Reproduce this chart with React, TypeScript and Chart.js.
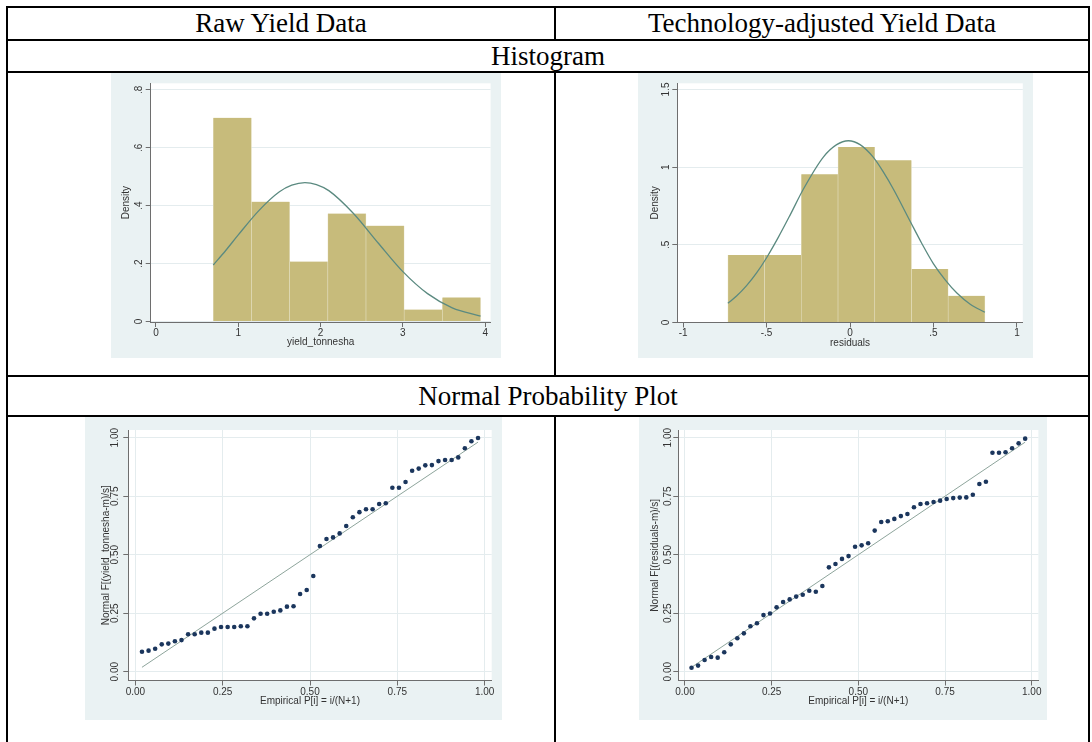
import React, { useEffect, useRef } from "react";
import { Chart, registerables } from "chart.js";

Chart.register(...registerables);

// ---------- Histogram: raw yield (yield_tonnesha) ----------
const rawBinStart = 0.696;
const rawBinWidth = 0.464;
const rawDensity = [0.704, 0.414, 0.207, 0.373, 0.331, 0.041, 0.083];
// overlaid normal density, sampled along the data range
const rawNormalX = [0.696, 0.85, 1.0, 1.25, 1.5, 1.65, 1.81, 1.95, 2.1, 2.4, 2.7, 3.0, 3.3, 3.6, 3.944];
const rawNormalY = [0.195, 0.246, 0.299, 0.383, 0.448, 0.471, 0.48, 0.473, 0.452, 0.373, 0.271, 0.172, 0.096, 0.047, 0.018];
const rawXTicks = [0, 1, 2, 3, 4];
const rawXTickLabels = ["0", "1", "2", "3", "4"];
const rawYTicks = [0, 0.2, 0.4, 0.6, 0.8];
const rawYTickLabels = ["0", ".2", ".4", ".6", ".8"];

// ---------- Histogram: technology-adjusted yield (residuals) ----------
const resBinStart = -0.732;
const resBinWidth = 0.22;
const resDensity = [0.435, 0.435, 0.955, 1.13, 1.045, 0.345, 0.172];
const resNormalX = [-0.732, -0.68, -0.62, -0.56, -0.5, -0.43, -0.36, -0.28, -0.16, -0.08, -0.01, 0.06, 0.14, 0.2, 0.26, 0.36, 0.43, 0.5, 0.57, 0.64, 0.72, 0.808];
const resNormalY = [0.124, 0.17, 0.237, 0.319, 0.417, 0.548, 0.69, 0.858, 1.065, 1.145, 1.17, 1.145, 1.063, 0.968, 0.858, 0.652, 0.509, 0.378, 0.275, 0.19, 0.118, 0.066];
const resXTicks = [-1, -0.5, 0, 0.5, 1];
const resXTickLabels = ["-1", "-.5", "0", ".5", "1"];
const resYTicks = [0, 0.5, 1, 1.5];
const resYTickLabels = ["0", ".5", "1", "1.5"];

// ---------- Normal probability plots ----------
const pnormTicks = [0, 0.25, 0.5, 0.75, 1];
const pnormTickLabels = ["0.00", "0.25", "0.50", "0.75", "1.00"];
// Normal F[(x-m)/s] of the sorted observations
const rawNormalF = [
  0.085, 0.09, 0.098, 0.117, 0.12, 0.13, 0.135, 0.16, 0.16, 0.167,
  0.167, 0.184, 0.191, 0.191, 0.191, 0.194, 0.194, 0.228, 0.248, 0.248,
  0.256, 0.262, 0.278, 0.28, 0.332, 0.349, 0.409, 0.537, 0.567, 0.574,
  0.591, 0.623, 0.66, 0.682, 0.694, 0.694, 0.717, 0.72, 0.786, 0.786,
  0.811, 0.859, 0.868, 0.882, 0.883, 0.9, 0.905, 0.905, 0.916, 0.955,
  0.985, 0.999,
];
const resNormalF = [
  0.017, 0.026, 0.05, 0.063, 0.06, 0.083, 0.117, 0.143, 0.164, 0.194,
  0.207, 0.242, 0.249, 0.275, 0.298, 0.309, 0.321, 0.329, 0.346, 0.342,
  0.366, 0.446, 0.46, 0.482, 0.494, 0.534, 0.54, 0.549, 0.603, 0.64,
  0.643, 0.653, 0.665, 0.674, 0.703, 0.717, 0.72, 0.725, 0.731, 0.738,
  0.742, 0.744, 0.745, 0.756, 0.802, 0.812, 0.936, 0.936, 0.938, 0.955,
  0.976, 0.996,
];

// ---------- styling ----------
const FONT = "'Liberation Sans', Arial, Helvetica, sans-serif";
const SERIF = "'Liberation Serif', 'Times New Roman', Times, serif";
const TICK_SIZE = 10;
const TEXT = "#333333";
const AXIS = "#6e6e6e";
const GRID = "#e4ecee";
const REGION_BG = "#eaf2f3";
const PLOT_BG = "#ffffff";
const BAR = "#c7bb7b";
const BAR_EDGE = "#e4dfc0";
const CURVE = "#5b8a80";
const MARKER = "#1b365d";
const DIAGONAL = "#8ea59c";

type Frame = {
  box: { left: number; top: number; width: number; height: number };
  area: { left: number; top: number; right: number; bottom: number };
  yLabelGap: number;
  yTitlePad: number;
  xTitlePad: number;
  xLabelPad: number;
};

// white plot region + rotated y tick labels
const framePlugin = {
  id: "frame",
  beforeDraw(chart: any) {
    const { ctx, chartArea: a } = chart;
    ctx.save();
    ctx.fillStyle = PLOT_BG;
    ctx.fillRect(a.left, a.top, a.right - a.left, a.bottom - a.top);
    ctx.restore();
  },
  afterDraw(chart: any, _args: any, opts: any) {
    const ys = chart.scales.y;
    const ctx = chart.ctx;
    ctx.save();
    ctx.font = `${TICK_SIZE}px ${FONT}`;
    ctx.fillStyle = TEXT;
    ctx.textAlign = "center";
    ctx.textBaseline = "middle";
    opts.values.forEach((v: number, i: number) => {
      const py = ys.getPixelForValue(v);
      ctx.save();
      ctx.translate(chart.chartArea.left - opts.gap, py);
      ctx.rotate(-Math.PI / 2);
      ctx.fillText(opts.labels[i], 0, 0);
      ctx.restore();
    });
    ctx.restore();
  },
};

type AxisSpec = {
  xMin: number; xMax: number; yMin: number; yMax: number;
  xTicks: number[]; xLabels: string[]; yTicks: number[]; yLabels: string[];
  xTitle: string; yTitle: string; xGrid: boolean;
};

function buildOptions(f: Frame, s: AxisSpec, offsetBars: boolean) {
  const font = { family: FONT, size: TICK_SIZE };
  return {
    responsive: false,
    animation: false,
    devicePixelRatio: 1,
    events: [],
    layout: {
      padding: {
        left: 0,
        bottom: 0,
        top: f.area.top - f.box.top,
        right: f.box.left + f.box.width - f.area.right,
      },
    },
    plugins: {
      legend: { display: false },
      tooltip: { enabled: false },
      frame: { values: s.yTicks, labels: s.yLabels, gap: f.yLabelGap },
    },
    scales: {
      x: {
        type: "linear",
        min: s.xMin,
        max: s.xMax,
        offset: offsetBars ? false : undefined,
        afterBuildTicks: (sc: any) => {
          sc.ticks = s.xTicks.map((v) => ({ value: v }));
        },
        afterFit: (sc: any) => {
          sc.height = f.box.top + f.box.height - f.area.bottom;
          sc.paddingLeft = 0;
          sc.paddingRight = 0;
        },
        ticks: {
          autoSkip: false,
          maxRotation: 0,
          minRotation: 0,
          padding: f.xLabelPad,
          color: TEXT,
          font,
          callback: (v: number) => {
            const i = s.xTicks.findIndex((t) => Math.abs(t - v) < 1e-9);
            return i >= 0 ? s.xLabels[i] : "";
          },
        },
        grid: {
          offset: false,
          drawOnChartArea: s.xGrid,
          color: GRID,
          lineWidth: 1,
          tickLength: 5,
          tickColor: AXIS,
          tickWidth: 1,
        },
        border: { display: true, color: AXIS, width: 1 },
        title: {
          display: true,
          text: s.xTitle,
          color: TEXT,
          font,
          padding: { top: 0, bottom: f.xTitlePad },
        },
      },
      y: {
        type: "linear",
        min: s.yMin,
        max: s.yMax,
        afterBuildTicks: (sc: any) => {
          sc.ticks = s.yTicks.map((v) => ({ value: v }));
        },
        afterFit: (sc: any) => {
          sc.width = f.area.left - f.box.left;
          sc.paddingTop = 0;
          sc.paddingBottom = 0;
        },
        ticks: { display: false, autoSkip: false },
        grid: {
          drawOnChartArea: true,
          color: GRID,
          lineWidth: 1,
          tickLength: 5,
          tickColor: AXIS,
          tickWidth: 1,
        },
        border: { display: true, color: AXIS, width: 1 },
        title: {
          display: true,
          text: s.yTitle,
          color: TEXT,
          font,
          padding: { top: f.yTitlePad, bottom: 0 },
        },
      },
    },
  };
}

function histConfig(
  f: Frame,
  binStart: number,
  binWidth: number,
  density: number[],
  curveX: number[],
  curveY: number[],
  s: AxisSpec
) {
  const bars = density.map((d, i) => ({ x: binStart + (i + 0.5) * binWidth, y: d }));
  const curve = curveX.map((x, i) => ({ x, y: curveY[i] }));
  return {
    type: "bar",
    data: {
      datasets: [
        {
          type: "line",
          data: curve,
          borderColor: CURVE,
          borderWidth: 1.3,
          pointRadius: 0,
          fill: false,
          cubicInterpolationMode: "monotone",
          order: 0,
        },
        {
          type: "bar",
          data: bars,
          backgroundColor: BAR,
          borderColor: BAR_EDGE,
          borderWidth: { left: 0.6, right: 0.6, top: 0, bottom: 0 },
          borderSkipped: false,
          barPercentage: 1,
          categoryPercentage: 1,
          order: 1,
        },
      ],
    },
    options: buildOptions(f, s, true),
    plugins: [framePlugin],
  };
}

function pnormConfig(f: Frame, normalF: number[], s: AxisSpec) {
  const n = normalF.length;
  // empirical P[i] = i/(N+1)
  const pts = normalF.map((y, i) => ({ x: (i + 1) / (n + 1), y }));
  const first = pts[0].x;
  const last = pts[n - 1].x;
  return {
    type: "scatter",
    data: {
      datasets: [
        {
          data: pts,
          showLine: false,
          pointRadius: 2.3,
          pointStyle: "circle",
          pointBackgroundColor: MARKER,
          pointBorderWidth: 0,
          order: 0,
        },
        {
          data: [
            { x: first, y: first },
            { x: last, y: last },
          ],
          showLine: true,
          borderColor: DIAGONAL,
          borderWidth: 1,
          pointRadius: 0,
          order: 1,
        },
      ],
    },
    options: buildOptions(f, s, false),
    plugins: [framePlugin],
  };
}

function StataChart({ frame, config }: { frame: Frame; config: any }) {
  const ref = useRef<HTMLCanvasElement>(null);
  useEffect(() => {
    if (!ref.current) return;
    const chart = new Chart(ref.current, config);
    return () => chart.destroy();
  }, []);
  const b = frame.box;
  return (
    <canvas
      ref={ref}
      width={b.width}
      height={b.height}
      style={{
        position: "absolute",
        left: b.left,
        top: b.top,
        width: b.width,
        height: b.height,
        background: REGION_BG,
      }}
    />
  );
}

// ---------- page layout ----------
const rawHistFrame: Frame = {
  box: { left: 111, top: 73, width: 390, height: 285 },
  area: { left: 150.7, top: 83.3, right: 490.6, bottom: 322 },
  yLabelGap: 11.4,
  yTitlePad: 9.7,
  xTitlePad: 9.5,
  xLabelPad: 0,
};
const resHistFrame: Frame = {
  box: { left: 638, top: 73, width: 395, height: 285 },
  area: { left: 677.3, top: 83.3, right: 1022.8, bottom: 322.5 },
  yLabelGap: 10.6,
  yTitlePad: 11,
  xTitlePad: 9,
  xLabelPad: 0,
};
const rawPnormFrame: Frame = {
  box: { left: 85, top: 417, width: 417, height: 303 },
  area: { left: 128.3, top: 430, right: 491.7, bottom: 680.5 },
  yLabelGap: 13.3,
  yTitlePad: 15.7,
  xTitlePad: 13,
  xLabelPad: 1,
};
const resPnormFrame: Frame = {
  box: { left: 639, top: 417, width: 408, height: 303 },
  area: { left: 678.3, top: 430, right: 1038.4, bottom: 680.5 },
  yLabelGap: 10,
  yTitlePad: 10,
  xTitlePad: 13,
  xLabelPad: 1,
};

const rawHistSpec: AxisSpec = {
  xMin: -0.064, xMax: 4.066, yMin: -0.002, yMax: 0.823,
  xTicks: rawXTicks, xLabels: rawXTickLabels, yTicks: rawYTicks, yLabels: rawYTickLabels,
  xTitle: "yield_tonnesha", yTitle: "Density", xGrid: false,
};
const resHistSpec: AxisSpec = {
  xMin: -1.035, xMax: 1.035, yMin: 0, yMax: 1.54,
  xTicks: resXTicks, xLabels: resXTickLabels, yTicks: resYTicks, yLabels: resYTickLabels,
  xTitle: "residuals", yTitle: "Density", xGrid: false,
};
const rawPnormSpec: AxisSpec = {
  xMin: -0.0203, xMax: 1.0203, yMin: -0.0376, yMax: 1.033,
  xTicks: pnormTicks, xLabels: pnormTickLabels, yTicks: pnormTicks, yLabels: pnormTickLabels,
  xTitle: "Empirical P[i] = i/(N+1)", yTitle: "Normal F[(yield_tonnesha-m)/s]", xGrid: true,
};
const resPnormSpec: AxisSpec = {
  xMin: -0.0193, xMax: 1.0193, yMin: -0.0376, yMax: 1.033,
  xTicks: pnormTicks, xLabels: pnormTickLabels, yTicks: pnormTicks, yLabels: pnormTickLabels,
  xTitle: "Empirical P[i] = i/(N+1)", yTitle: "Normal F[(residuals-m)/s]", xGrid: true,
};

const RULE = 2;
const hLines = [
  { top: 6, left: 6, width: 1084 },
  { top: 39, left: 6, width: 1084 },
  { top: 71, left: 6, width: 1084 },
  { top: 375, left: 6, width: 1084 },
  { top: 415, left: 6, width: 1084 },
];
const vLines = [
  { left: 6, top: 6, height: 736 },
  { left: 1088, top: 6, height: 736 },
  { left: 554, top: 6, height: 34 },
  { left: 554, top: 71, height: 305 },
  { left: 554, top: 415, height: 327 },
];
const cells = [
  { text: "Raw Yield Data", left: 8, top: 8, width: 546, height: 31 },
  { text: "Technology-adjusted Yield Data", left: 556, top: 8, width: 532, height: 31 },
  { text: "Histogram", left: 8, top: 41, width: 1080, height: 30 },
  { text: "Normal Probability Plot", left: 8, top: 377, width: 1080, height: 38 },
];

export default function App() {
  return (
    <div
      style={{
        position: "fixed",
        left: 0,
        top: 0,
        width: 1092,
        height: 742,
        background: "#ffffff",
        overflow: "hidden",
      }}
    >
      {cells.map((c) => (
        <div
          key={c.text}
          style={{
            position: "absolute",
            left: c.left,
            top: c.top,
            width: c.width,
            height: c.height,
            display: "flex",
            alignItems: "center",
            justifyContent: "center",
            fontFamily: SERIF,
            fontSize: 27,
            color: "#000",
            whiteSpace: "nowrap",
          }}
        >
          {c.text}
        </div>
      ))}
      {hLines.map((l, i) => (
        <div
          key={"h" + i}
          style={{ position: "absolute", left: l.left, top: l.top, width: l.width, height: RULE, background: "#000" }}
        />
      ))}
      {vLines.map((l, i) => (
        <div
          key={"v" + i}
          style={{ position: "absolute", left: l.left, top: l.top, width: RULE, height: l.height, background: "#000" }}
        />
      ))}
      <StataChart
        frame={rawHistFrame}
        config={histConfig(rawHistFrame, rawBinStart, rawBinWidth, rawDensity, rawNormalX, rawNormalY, rawHistSpec)}
      />
      <StataChart
        frame={resHistFrame}
        config={histConfig(resHistFrame, resBinStart, resBinWidth, resDensity, resNormalX, resNormalY, resHistSpec)}
      />
      <StataChart frame={rawPnormFrame} config={pnormConfig(rawPnormFrame, rawNormalF, rawPnormSpec)} />
      <StataChart frame={resPnormFrame} config={pnormConfig(resPnormFrame, resNormalF, resPnormSpec)} />
    </div>
  );
}
